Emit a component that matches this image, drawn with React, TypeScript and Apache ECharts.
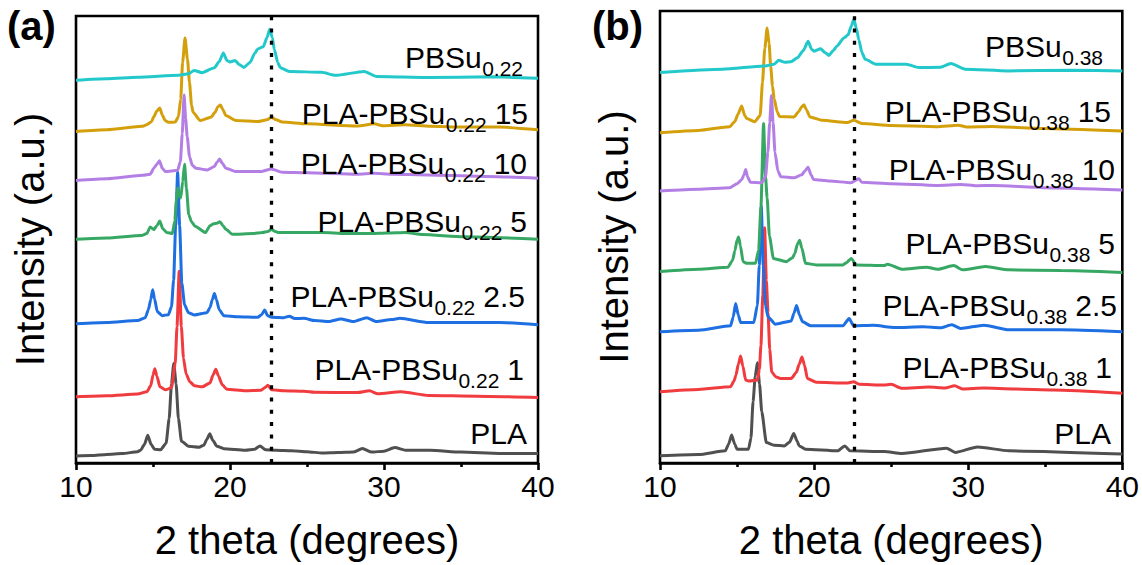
import React, { useEffect, useRef } from "react";
import * as echarts from "echarts";

const FONT = '"Liberation Sans", Arial, Helvetica, sans-serif';

// Colors: PLA, 1, 2.5, 5, 10, 15, PBSu
const colors = ["#505050", "#f03b3f", "#1d6fe2", "#37a864", "#b47fe4", "#d3a00c", "#22c8ca"];

// x ticks
const xMin = 10;
const xMax = 40;
const xStep = 10;

// dashed reference lines (2 theta)
const refLineA = 22.65;
const refLineB = 22.6;

// ---------- Panel (a): PBSu0.22 blends (stacked intensities, a.u.) ----------
const aPLA: number[][] = [
  [10, 7], [11, 7.5], [12, 8.7], [13, 9.5], [14, 11.5],
  [14.2, 13], [14.45, 19], [14.66, 28], [14.87, 19], [15.1, 14], [15.5, 13.5],
  [15.85, 20], [16.05, 45], [16.2, 80], [16.35, 100.7], [16.5, 80], [16.65, 45], [16.85, 22], [17.3, 17], [18.0, 16],
  [18.3, 18], [18.5, 24], [18.69, 29.7], [18.88, 23], [19.15, 17], [19.6, 14.5], [21, 13],
  [21.6, 14], [21.95, 17.3], [22.3, 13.5], [23, 13], [24, 12.5], [25, 11.5], [26, 10], [27, 10.5], [28, 11],
  [28.6, 14.7], [29.2, 11], [30, 12], [30.7, 15.7], [31.4, 13], [33, 13], [35, 11], [37.5, 9.7], [40, 9.7],
];
const a1: number[][] = [
  [10, 67], [12, 68], [14, 69.7], [14.6, 72], [14.85, 78], [15.0, 89], [15.12, 95.3], [15.25, 88], [15.45, 77], [15.8, 74],
  [16.2, 76], [16.44, 100], [16.56, 138], [16.7, 194], [16.84, 138], [16.98, 106], [17.15, 90], [17.4, 82], [17.7, 78],
  [18.2, 77], [18.7, 81], [18.9, 89], [19.08, 94.7], [19.25, 88], [19.5, 79], [19.8, 74.5], [21, 73], [22, 73.5],
  [22.25, 76], [22.46, 78.7], [22.7, 74], [23.5, 73], [24.8, 72.5], [25.5, 71.5], [28.25, 71.3], [29.06, 73], [29.6, 70],
  [31.1, 72], [32.9, 68.3], [36, 67.5], [40, 66.3],
];
const a25: number[][] = [
  [10, 140.7], [12, 142], [14, 144], [14.5, 147], [14.7, 155], [14.85, 165], [14.98, 175.3], [15.1, 166], [15.28, 153], [15.6, 149],
  [16.0, 150], [16.2, 158], [16.34, 185], [16.47, 240], [16.6, 294], [16.73, 240], [16.87, 182], [17.05, 160], [17.3, 152], [17.7, 149.7],
  [18.5, 152], [18.7, 157], [18.85, 165], [18.99, 171.3], [19.12, 165], [19.3, 155], [19.6, 149], [20.5, 148], [21.8, 147.3],
  [22.05, 150], [22.25, 154.7], [22.45, 149], [22.7, 147.3], [23.5, 147], [23.85, 148.5], [24.2, 146], [24.8, 146.3], [25.5, 144],
  [26.4, 143], [27.2, 145.7], [28.0, 143], [28.88, 147], [29.5, 143], [30.5, 145], [31.03, 146.3], [32.9, 142], [37.5, 142], [40, 139.7],
];
const a5: number[][] = [
  [10, 226.3], [12, 227.5], [14.24, 230], [14.6, 232], [14.82, 238.7], [15.05, 236], [15.25, 240], [15.44, 244.7], [15.63, 237],
  [15.9, 233], [16.25, 232], [16.42, 245], [16.51, 265], [16.6, 278], [16.72, 270], [16.8, 268], [16.93, 285], [17.05, 302],
  [17.17, 278], [17.32, 251.3], [17.5, 244], [17.71, 239.7], [18.41, 233], [18.7, 240], [18.94, 242], [19.15, 242.5], [19.34, 244],
  [19.55, 240], [19.73, 236.3], [20.15, 231.3], [21.5, 232], [22.11, 233], [22.45, 234], [22.69, 236.3], [22.95, 234], [23.16, 233],
  [24.78, 233], [26, 233], [27.5, 232], [29.18, 232], [30.2, 232.5], [31.38, 233], [32.5, 231], [35.2, 228.7], [40, 226.3],
];
const a10: number[][] = [
  [10, 285.7], [12, 287.5], [14.35, 291], [14.82, 292], [15.05, 298], [15.25, 302], [15.42, 305.7], [15.6, 298], [15.8, 294.7],
  [16.6, 296], [16.78, 305], [16.9, 333], [17.02, 372], [17.12, 348], [17.22, 330], [17.37, 310], [17.55, 301], [17.8, 298],
  [18.52, 296.3], [18.99, 299.7], [19.15, 304], [19.33, 307.3], [19.5, 303], [19.73, 298], [20.38, 294.7], [22.0, 294.7],
  [22.69, 297.3], [23.39, 294], [25, 293.5], [28.25, 292], [29.37, 293], [30.5, 292], [32.89, 291.3], [36, 290], [40, 288],
];
const a15: number[][] = [
  [10, 335.3], [12, 337], [14.3, 340.5], [14.59, 342], [14.9, 345], [15.05, 350], [15.25, 356], [15.44, 359], [15.6, 352],
  [15.79, 346.3], [16.0, 344.5], [16.44, 344.7], [16.65, 350], [16.8, 368], [16.92, 405], [17.08, 429.7], [17.24, 408],
  [17.37, 385], [17.5, 362], [17.6, 354.7], [18.06, 346.3], [18.76, 349.7], [19.05, 355], [19.2, 360], [19.38, 362], [19.55, 357],
  [19.73, 351.3], [20.38, 346.3], [21.8, 345.3], [22.4, 347], [22.69, 349.7], [23.0, 347], [23.39, 344.7], [25, 343], [28.25, 340.7],
  [29.37, 343], [29.9, 341], [31.4, 342], [33, 340.5], [35.2, 339.7], [37.52, 339.7], [40, 337],
];
const aPBSu: number[][] = [
  [10, 387], [12, 388.5], [14, 390], [16.67, 392], [17.3, 393.5], [17.67, 397], [18.18, 394.7], [18.99, 399.7], [19.3, 406],
  [19.57, 414.7], [19.8, 407], [20.0, 405.5], [20.33, 407], [20.6, 403], [20.89, 400], [21.3, 405], [21.6, 414], [21.81, 418.7],
  [22.16, 421], [22.4, 430], [22.58, 438.7], [22.75, 430], [22.88, 418], [23.1, 405], [23.27, 399.7], [23.85, 396], [25.94, 395],
  [26.86, 392], [28.72, 396], [29.53, 390.7], [32.89, 389.7], [36.94, 390.5], [40, 389],
];

// ---------- Panel (b): PBSu0.38 blends ----------
const bPLA: number[][] = [
  [10, 7.3], [12.5, 8.5], [14.24, 12.3], [14.45, 19], [14.65, 28.3], [14.85, 19], [15.0, 14], [15.74, 14], [15.9, 25],
  [16.04, 62.3], [16.18, 88], [16.32, 101.7], [16.46, 80], [16.6, 52.3], [16.9, 20.7], [17.4, 18], [18.06, 17.3], [18.4, 21],
  [18.68, 30], [18.9, 22], [19.03, 17.3], [19.44, 14], [21.53, 12.3], [21.99, 17.3], [22.34, 12.3], [24.54, 11.7], [25.69, 9.7],
  [28.59, 15], [29.17, 10.7], [30.6, 16.3], [32.64, 12.3], [40, 9],
];
const b1: number[][] = [
  [10, 72.3], [12.5, 74.5], [14.58, 77.3], [14.8, 83], [14.93, 89], [15.08, 100], [15.23, 108.3], [15.38, 98], [15.56, 84],
  [15.8, 83], [16.32, 84], [16.45, 95], [16.55, 119], [16.67, 170], [16.79, 238.3], [16.9, 185], [17.01, 152.3], [17.12, 115],
  [17.25, 92.3], [17.5, 87.5], [17.82, 85.7], [18.52, 85.7], [18.85, 92], [19.03, 100], [19.21, 107.3], [19.38, 99], [19.56, 85.7],
  [20.14, 81.7], [22.1, 81], [22.57, 82.3], [22.92, 79.7], [24.5, 79], [25.0, 79.7], [25.69, 75.7], [27.43, 77], [28.5, 76],
  [29.12, 78.3], [29.63, 75], [31.02, 76], [33, 75], [35.53, 74], [40, 70.7],
];
const b25: number[][] = [
  [10, 133], [12.5, 134.5], [14.58, 139], [14.75, 148], [14.91, 161.7], [15.08, 150], [15.23, 142.3], [16.09, 142.3],
  [16.32, 160], [16.44, 200], [16.57, 261], [16.7, 200], [16.84, 160], [17.01, 148], [17.48, 140.7], [18.52, 144], [18.7, 152],
  [18.86, 159.7], [19.05, 150], [19.26, 143], [19.79, 139], [21.87, 139], [22.27, 146.3], [22.57, 139], [23.84, 139.5],
  [25.23, 137.3], [27.08, 138], [28.2, 137], [28.94, 140], [29.51, 136.3], [31.02, 139.7], [32.64, 135], [36, 135], [40, 133],
];
const b5: number[][] = [
  [10, 194], [12.5, 196.3], [14.4, 198.3], [14.7, 205], [14.86, 215], [15.0, 226], [15.1, 229], [15.22, 220], [15.39, 204],
  [15.6, 202.5], [16.2, 202.3], [16.4, 215.7], [16.55, 260], [16.72, 344], [16.85, 290], [16.95, 269], [17.1, 230], [17.36, 207.3],
  [18.2, 204], [18.6, 208], [18.75, 212.3], [18.92, 222], [19.06, 225.7], [19.2, 218], [19.44, 202.3], [20.14, 200.7],
  [21.87, 200.7], [22.1, 203], [22.41, 207.3], [22.73, 200.7], [24.54, 200], [24.77, 201.5], [25.69, 196.3], [27.31, 198.3],
  [28.01, 196.3], [29.06, 200], [29.63, 195.7], [31.13, 199], [32.64, 195.7], [36, 195], [40, 193],
];
const b10: number[][] = [
  [10, 275.7], [12.5, 277.5], [14.52, 279], [15.0, 283], [15.3, 287], [15.45, 292], [15.56, 297.3], [15.68, 290], [15.86, 284.5],
  [16.6, 284], [16.85, 290], [17.0, 315], [17.12, 345], [17.23, 372.3], [17.34, 345], [17.46, 315], [17.65, 296], [17.85, 290],
  [18.69, 289], [19.2, 292], [19.4, 296], [19.61, 299.7], [19.8, 292], [19.96, 287.3], [21.0, 285.7], [22.39, 284], [22.9, 288],
  [23.09, 284.5], [25, 283], [27.95, 281.3], [29.57, 282.3], [30.5, 281], [31.66, 281.3], [34.9, 279], [40, 276.7],
];
const b15: number[][] = [
  [10, 334.7], [12.5, 337], [14.52, 340.7], [14.86, 346], [15.05, 353], [15.3, 361.7], [15.5, 352], [15.63, 349], [16.14, 345.7],
  [16.5, 352], [16.65, 385.7], [16.8, 420], [16.95, 440.7], [17.08, 425], [17.18, 402.3], [17.3, 382], [17.41, 369], [17.6, 356],
  [17.76, 351], [18.69, 350.7], [19.0, 356], [19.2, 361], [19.34, 363], [19.5, 358], [19.73, 350.7], [20.54, 347.3], [22.16, 345],
  [22.58, 347.3], [23.09, 344], [25, 342], [27.95, 340.7], [29.34, 342.3], [29.9, 340.5], [31.54, 341], [34.9, 339], [40, 336.3],
];
const bPBSu: number[][] = [
  [10, 395.7], [14.05, 399], [16.83, 402.3], [17.4, 404], [17.71, 408], [18.11, 406], [18.5, 406.5], [18.92, 410.7], [19.3, 418],
  [19.61, 427.3], [19.85, 419], [20.01, 417.3], [20.42, 419.7], [20.7, 416], [20.96, 413], [21.25, 418], [21.47, 422.3],
  [21.93, 430.7], [22.21, 434], [22.42, 443], [22.58, 449.7], [22.75, 440], [22.9, 429], [23.1, 416], [23.32, 409], [24.01, 404],
  [25.98, 404], [26.79, 400.7], [28.2, 401], [28.88, 404.7], [29.81, 399], [32.59, 397.3], [36.75, 398], [40, 397.3],
];

const panelAData = [aPLA, a1, a25, a5, a10, a15, aPBSu];
const panelBData = [bPLA, b1, b25, b5, b10, b15, bPBSu];

// Series labels
const labelMain = ["PLA", "PLA-PBSu", "PLA-PBSu", "PLA-PBSu", "PLA-PBSu", "PLA-PBSu", "PBSu"];
const labelTail = ["", "1", "2.5", "5", "10", "15", ""];
const subA = "0.22";
const subB = "0.38";

// label anchor positions (right edge x, middle y of main text), layout only
const labelPosA = [[527, 433], [524, 369], [525, 296], [527, 221], [527, 163], [528, 113], [523, 57]];
const labelPosB = [[1111, 433], [1112, 367], [1117, 305], [1115, 243], [1115, 169], [1111, 111], [1103, 46]];

const MAIN_SIZE = 30;
const SUB_SIZE = 21;
const SUB_DROP = 11;
const TAIL_GAP = 8;

export default function App() {
  const ref = useRef<HTMLDivElement>(null);
  useEffect(() => {
    if (!ref.current) return;
    const chart = echarts.init(ref.current, undefined, { renderer: "svg" });

    const ctx = document.createElement("canvas").getContext("2d")!;
    const measure = (t: string, size: number) => {
      ctx.font = `${size}px ${FONT}`;
      return ctx.measureText(t).width;
    };

    const axisX = (i: number) => ({
      type: "value",
      gridIndex: i,
      min: xMin,
      max: xMax,
      interval: xStep,
      axisLine: { show: true, onZero: false, lineStyle: { color: "#000", width: 2.6 } },
      axisTick: { show: true, inside: false, length: 7, lineStyle: { color: "#000", width: 2.6 } },
      minorTick: { show: true, splitNumber: 2, length: 4, lineStyle: { color: "#000", width: 2.6 } },
      splitLine: { show: false },
      minorSplitLine: { show: false },
      axisLabel: { fontSize: 30, color: "#000", margin: 8, fontFamily: FONT },
      name: "2 theta (degrees)",
      nameLocation: "middle",
      nameGap: 57,
      nameTextStyle: { fontSize: 40, color: "#000", fontFamily: FONT },
    });
    const axisY = (i: number, max: number) => ({
      type: "value",
      gridIndex: i,
      min: 0,
      max,
      axisLine: { show: false },
      axisTick: { show: false },
      axisLabel: { show: false },
      splitLine: { show: false },
      name: "Intensity (a.u.)",
      nameLocation: "middle",
      nameGap: 26,
      nameTextStyle: { fontSize: 40, color: "#000", fontFamily: FONT },
    });

    const series: any[] = [];
    const addPanel = (data: number[][][], idx: number, refX: number) => {
      data.forEach((d, i) => {
        series.push({
          type: "line",
          xAxisIndex: idx,
          yAxisIndex: idx,
          data: d,
          showSymbol: false,
          symbol: "none",
          smooth: 0.2,
          smoothMonotone: "x",
          lineStyle: { color: colors[i], width: 3 },
          itemStyle: { color: colors[i] },
          z: 2 + i,
          markLine:
            i === 0
              ? {
                  silent: true,
                  symbol: "none",
                  label: { show: false },
                  z: 20,
                  lineStyle: { color: "#000", width: 3.3, type: [4, 8.3] },
                  data: [{ xAxis: refX }],
                }
              : undefined,
        });
      });
    };
    addPanel(panelAData, 0, refLineA);
    addPanel(panelBData, 1, refLineB);

    const graphics: any[] = [];
    const addLabel = (i: number, sub: string, pos: number[]) => {
      const [R, Y] = pos;
      const txt = (text: string, x: number, y: number, size: number, align: string) => ({
        type: "text",
        x,
        y,
        z: 100,
        style: { text, font: `${size}px ${FONT}`, fill: "#000", align, verticalAlign: "middle" },
      });
      if (i === 0) {
        graphics.push(txt(labelMain[i], R, Y, MAIN_SIZE, "right"));
        return;
      }
      const tail = labelTail[i];
      let subRight = R;
      if (tail) {
        const tw = measure(tail, MAIN_SIZE);
        graphics.push(txt(tail, R, Y, MAIN_SIZE, "right"));
        subRight = R - tw - TAIL_GAP;
      }
      const sw = measure(sub, SUB_SIZE);
      graphics.push(txt(sub, subRight, Y + SUB_DROP, SUB_SIZE, "right"));
      graphics.push(txt(labelMain[i], subRight - sw - 0.5, Y, MAIN_SIZE, "right"));
    };
    labelPosA.forEach((p, i) => addLabel(i, subA, p));
    labelPosB.forEach((p, i) => addLabel(i, subB, p));

    graphics.push({
      type: "text", x: 7, y: 26, z: 100,
      style: { text: "(a)", font: `bold 40px ${FONT}`, fill: "#000", align: "left", verticalAlign: "middle" },
    });
    graphics.push({
      type: "text", x: 592, y: 26, z: 100,
      style: { text: "(b)", font: `bold 40px ${FONT}`, fill: "#000", align: "left", verticalAlign: "middle" },
    });

    chart.setOption({
      animation: false,
      backgroundColor: "#fff",
      grid: [
        { left: 76, top: 16, width: 462, height: 452, show: true, borderColor: "#000", borderWidth: 2.6, backgroundColor: "transparent" },
        { left: 660, top: 11, width: 463, height: 458, show: true, borderColor: "#000", borderWidth: 2.6, backgroundColor: "transparent" },
      ],
      xAxis: [axisX(0), axisX(1)],
      yAxis: [axisY(0, 452), axisY(1, 458)],
      series,
      graphic: graphics,
    });
    return () => chart.dispose();
  }, []);
  return (
    <div
      ref={ref}
      style={{ position: "fixed", left: 0, top: 0, width: 1142, height: 565, background: "#fff" }}
    />
  );
}
